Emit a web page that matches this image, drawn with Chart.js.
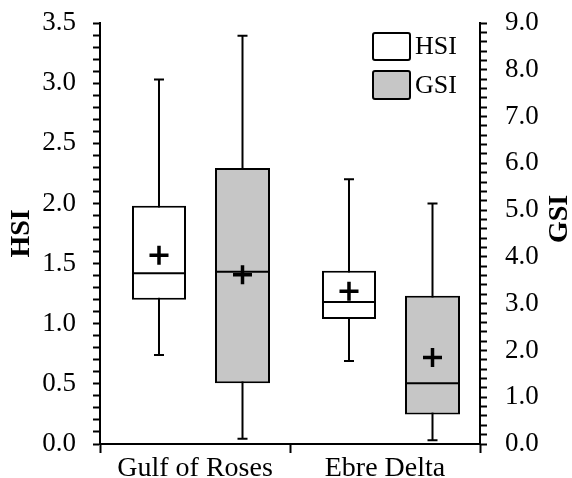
<!DOCTYPE html>
<html lang="en">
<head>
<meta charset="UTF-8">
<title>HSI / GSI</title>
<script src="https://cdn.jsdelivr.net/npm/chart.js"></script>
<style>
  html, body { margin: 0; padding: 0; background: #fff; }
</style>
</head>
<body>
<canvas id="chartCanvas" width="572" height="478"></canvas>
<script>
const sites = ['Gulf of Roses', 'Ebre Delta'];

// HSI, left axis
const hsiMin    = [0.74, 0.69];
const hsiQ1     = [1.20, 1.04];
const hsiMedian = [1.42, 1.18];
const hsiQ3     = [1.98, 1.44];
const hsiMax    = [3.03, 2.20];
const hsiMean   = [1.57, 1.27];

// GSI, right axis
const gsiMin    = [0.11, 0.08];
const gsiQ1     = [1.30, 0.63];
const gsiMedian = [3.68, 1.30];
const gsiQ3     = [5.90, 3.17];
const gsiMax    = [8.73, 5.14];
const gsiMean   = [3.62, 1.85];

const hsiTickLabels = ['0.0', '0.5', '1.0', '1.5', '2.0', '2.5', '3.0', '3.5'];
const gsiTickLabels = ['0.0', '1.0', '2.0', '3.0', '4.0', '5.0', '6.0', '7.0', '8.0', '9.0'];

const FONT = "'Liberation Serif', 'Times New Roman', serif";
Chart.defaults.font.family = FONT;
Chart.defaults.color = '#000';

// minor tick marks every `step`, labels only on the listed majors
function minorTicks(max, step) {
    const out = [];
    const n = Math.round(max / step);
    for (let i = 0; i <= n; i++) out.push({ value: Math.round(i * step * 10) / 10 });
    return out;
}

// keep the plot area fixed: no extra room for half-height end labels
function fixPadding(scale) {
    scale.paddingTop = 0;
    scale.paddingBottom = 0;
    scale.paddingLeft = 0;
    scale.paddingRight = 0;
}

const boxStats = [
    { min: hsiMin, median: hsiMedian, max: hsiMax, mean: hsiMean },
    { min: gsiMin, median: gsiMedian, max: gsiMax, mean: gsiMean }
];

// whiskers under the boxes, median and mean on top
const boxPlotExtras = {
    id: 'boxPlotExtras',
    beforeDatasetsDraw(chart) {
        const ctx = chart.ctx;
        ctx.save();
        ctx.strokeStyle = '#000';
        ctx.lineWidth = 2;
        boxStats.forEach((s, di) => {
            const meta = chart.getDatasetMeta(di);
            const scale = chart.scales[meta.yAxisID];
            meta.data.forEach((bar, i) => {
                const yMin = scale.getPixelForValue(s.min[i]);
                const yMax = scale.getPixelForValue(s.max[i]);
                ctx.beginPath();
                ctx.moveTo(bar.x, yMin);
                ctx.lineTo(bar.x, yMax);
                ctx.moveTo(bar.x - 5, yMin);
                ctx.lineTo(bar.x + 5, yMin);
                ctx.moveTo(bar.x - 5, yMax);
                ctx.lineTo(bar.x + 5, yMax);
                ctx.stroke();
            });
        });
        ctx.restore();
    },
    afterDatasetsDraw(chart) {
        const ctx = chart.ctx;
        ctx.save();
        ctx.strokeStyle = '#000';
        boxStats.forEach((s, di) => {
            const meta = chart.getDatasetMeta(di);
            const scale = chart.scales[meta.yAxisID];
            meta.data.forEach((bar, i) => {
                const half = bar.width / 2;
                const yMed = scale.getPixelForValue(s.median[i]);
                ctx.lineWidth = 2;
                ctx.beginPath();
                ctx.moveTo(bar.x - half, yMed);
                ctx.lineTo(bar.x + half, yMed);
                ctx.stroke();

                const yMean = scale.getPixelForValue(s.mean[i]);
                ctx.lineWidth = 3.5;
                ctx.beginPath();
                ctx.moveTo(bar.x - 9.5, yMean);
                ctx.lineTo(bar.x + 9.5, yMean);
                ctx.moveTo(bar.x, yMean - 9.5);
                ctx.lineTo(bar.x, yMean + 9.5);
                ctx.stroke();
            });
        });
        ctx.restore();
    }
};

// legend boxes inside the plot, top right
const insideLegend = {
    id: 'insideLegend',
    afterDraw(chart) {
        const ctx = chart.ctx;
        const items = [
            { y: 33, h: 27 },
            { y: 71, h: 28 }
        ];
        ctx.save();
        chart.data.datasets.forEach((ds, i) => {
            const it = items[i];
            ctx.beginPath();
            ctx.roundRect(373, it.y, 37, it.h, 2);
            ctx.fillStyle = ds.backgroundColor;
            ctx.fill();
            ctx.lineWidth = 2;
            ctx.strokeStyle = '#000';
            ctx.stroke();
            ctx.fillStyle = '#000';
            ctx.font = '26px ' + FONT;
            ctx.textAlign = 'left';
            ctx.textBaseline = 'middle';
            ctx.fillText(ds.label, 415, it.y + it.h / 2 + 1);
        });
        ctx.restore();
    }
};

// right axis title reads bottom-to-top like the left one
const rightTitle = {
    id: 'rightTitle',
    afterDraw(chart) {
        const ctx = chart.ctx;
        ctx.save();
        ctx.translate(560, 219);
        ctx.rotate(-Math.PI / 2);
        ctx.font = 'bold 28px ' + FONT;
        ctx.fillStyle = '#000';
        ctx.textAlign = 'center';
        ctx.textBaseline = 'middle';
        ctx.fillText('GSI', 0, 0);
        ctx.restore();
    }
};

const ctx = document.getElementById('chartCanvas').getContext('2d');
new Chart(ctx, {
    type: 'bar',
    data: {
        labels: sites,
        datasets: [
            {
                label: 'HSI',
                data: sites.map((_, i) => [hsiQ1[i], hsiQ3[i]]),
                backgroundColor: '#ffffff',
                borderColor: '#000',
                borderWidth: 2,
                borderSkipped: false,
                yAxisID: 'y',
                // narrower group slot pulls the white box left of centre
                categoryPercentage: 0.758,
                barPercentage: 0.75
            },
            {
                label: 'GSI',
                data: sites.map((_, i) => [gsiQ1[i], gsiQ3[i]]),
                backgroundColor: '#c6c6c6',
                borderColor: '#000',
                borderWidth: 2,
                borderSkipped: false,
                yAxisID: 'y2',
                categoryPercentage: 1.0,
                barPercentage: 0.579
            }
        ]
    },
    options: {
        responsive: false,
        animation: false,
        layout: { padding: { top: 23, left: 0, right: 0, bottom: 0 } },
        plugins: {
            legend: { display: false },
            tooltip: { enabled: false }
        },
        scales: {
            x: {
                offset: true,
                grid: { offset: true, drawOnChartArea: false, tickLength: 9, color: '#000', tickWidth: 2 },
                border: { color: '#000', width: 2 },
                ticks: { font: { size: 28 }, color: '#000', padding: -1, maxRotation: 0, autoSkip: false },
                afterFit(scale) { fixPadding(scale); scale.height = 34; }
            },
            y: {
                position: 'left',
                min: 0,
                max: 3.5,
                afterBuildTicks(scale) { scale.ticks = minorTicks(3.5, 0.1); },
                ticks: {
                    autoSkip: false,
                    font: { size: 27 },
                    color: '#000',
                    padding: 17,
                    callback: v => hsiTickLabels.includes(v.toFixed(1)) ? v.toFixed(1) : ''
                },
                grid: { drawOnChartArea: false, tickLength: 7, color: '#000', tickWidth: 2 },
                border: { color: '#000', width: 2 },
                title: {
                    display: true,
                    text: 'HSI',
                    font: { size: 28, weight: 'bold' },
                    color: '#000',
                    padding: { top: 5, bottom: 0 }
                },
                afterFit(scale) { fixPadding(scale); scale.width = 100; }
            },
            y2: {
                position: 'right',
                min: 0,
                max: 9,
                afterBuildTicks(scale) { scale.ticks = minorTicks(9, 0.2); },
                ticks: {
                    autoSkip: false,
                    font: { size: 27 },
                    color: '#000',
                    padding: 18,
                    callback: v => gsiTickLabels.includes(v.toFixed(1)) ? v.toFixed(1) : ''
                },
                grid: { drawOnChartArea: false, tickLength: 7, color: '#000', tickWidth: 2 },
                border: { color: '#000', width: 2 },
                afterFit(scale) { fixPadding(scale); scale.width = 92; }
            }
        }
    },
    plugins: [boxPlotExtras, insideLegend, rightTitle]
});
</script>
</body>
</html>
